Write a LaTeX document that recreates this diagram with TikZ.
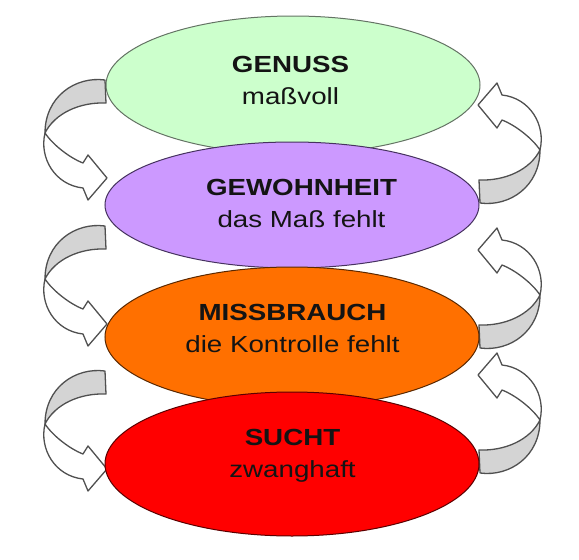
\documentclass[tikz,border=0pt]{standalone}
\usepackage{fontspec}
\setmainfont{Liberation Sans}[FakeStretch=1.19]
\usetikzlibrary{shapes.geometric}
\definecolor{cGreen}{RGB}{204,255,204}
\definecolor{cGreenE}{RGB}{100,115,100}
\definecolor{cPurple}{RGB}{204,153,255}
\definecolor{cPurpleE}{RGB}{70,50,95}
\definecolor{cOrange}{RGB}{255,112,0}
\definecolor{cOrangeE}{RGB}{90,40,0}
\definecolor{cRed}{RGB}{255,0,0}
\definecolor{cRedE}{RGB}{90,0,0}
\definecolor{cBand}{RGB}{212,212,212}
\definecolor{cLine}{RGB}{80,80,80}
\definecolor{cText}{RGB}{20,20,20}
\tikzset{
  levelell/.style={ellipse, draw, line width=1pt, inner sep=0pt, minimum width=374pt},
  ttl/.style={anchor=base, font=\fontsize{23.3}{27}\selectfont\bfseries, text=cText, inner sep=0pt},
  sub/.style={anchor=base, font=\fontsize{23.3}{27}\selectfont, text=cText, inner sep=0pt},
  bandgray/.style={fill=cBand, draw=cLine, line width=1.3pt, line join=round},
  bandwhite/.style={fill=white, draw=cLine, line width=1.3pt, line join=round},
  cyclearrow/.pic={
    \path[bandgray] (60,-53) .. controls (30,-57) and (0,-36) .. (0,0)
      .. controls (10,-20) and (35,-31) .. (61,-30) -- cycle;
    \path[bandwhite] (0,0) .. controls (8,12) and (25,25) .. (38,30)
      -- (43,22) -- (62,45) -- (43,67) -- (38,55)
      .. controls (10,52) and (-6,25) .. (0,0) -- cycle;
  }
}
\begin{document}
\begin{tikzpicture}[x=1pt, y=-1pt]
\useasboundingbox (0,0) rectangle (579,560);
% left arrows (downwards)
\pic at (45,133) {cyclearrow};
\pic at (45,279) {cyclearrow};
\pic at (45,424) {cyclearrow};
% right arrows (upwards)
\pic[rotate=180] at (540,150) {cyclearrow};
\pic[rotate=180] at (540,295) {cyclearrow};
\pic[rotate=180] at (540,420) {cyclearrow};
% ellipses
\node[levelell, fill=cGreen, draw=cGreenE, minimum height=138pt] (genuss) at (293,85) {};
\node[levelell, fill=cPurple, draw=cPurpleE, minimum height=126pt] (gewohnheit) at (292,205) {};
\node[levelell, fill=cOrange, draw=cOrangeE, minimum height=140pt] (missbrauch) at (292,337) {};
\node[levelell, fill=cRed, draw=cRedE, minimum height=144pt] (sucht) at (292,464) {};
% texts
\node[ttl] (t1) at (290.5,72) {GENUSS};
\node[sub] (s1) at (290.5,104) {maßvoll};
\node[ttl] (t2) at (301.5,195) {GEWOHNHEIT};
\node[sub] (s2) at (301.5,227) {das Maß fehlt};
\node[ttl] (t3) at (292.5,320) {MISSBRAUCH};
\node[sub] (s3) at (292.5,352) {die Kontrolle fehlt};
\node[ttl] (t4) at (292.5,445) {SUCHT};
\node[sub] (s4) at (292.5,477) {zwanghaft};
\end{tikzpicture}
\end{document}
